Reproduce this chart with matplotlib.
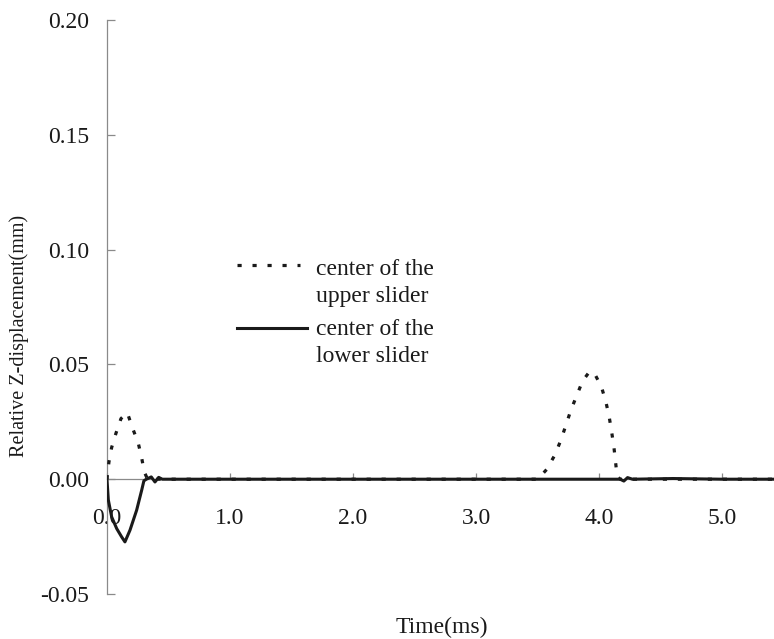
import matplotlib
matplotlib.use("Agg")
import matplotlib.pyplot as plt
from matplotlib.ticker import FixedLocator, FixedFormatter

plt.rcParams['font.family'] = ['Liberation Serif', 'DejaVu Serif']
plt.rcParams['axes.unicode_minus'] = False
plt.rcParams['lines.scale_dashes'] = False

# Time axis (ms) and relative Z-displacement (mm) of the two slider centres
upper_t = [0.0, 0.016, 0.038, 0.073, 0.114, 0.165, 0.209, 0.254, 0.282, 0.303,
           0.33, 1.0, 2.0, 3.0, 3.5, 3.572, 3.639, 3.688, 3.729, 3.769, 3.816,
           3.864, 3.92, 3.959, 4.018, 4.054, 4.081, 4.100, 4.119, 4.132, 4.145,
           4.17, 4.5, 5.0, 5.42]
upper_z = [0.0, 0.0075, 0.0138, 0.0200, 0.0264, 0.0290, 0.0221, 0.0158, 0.0093,
           0.0032, 0.0, 0.0, 0.0, 0.0, 0.0, 0.0042, 0.0105, 0.0170, 0.0235,
           0.0300, 0.0363, 0.0427, 0.0468, 0.0463, 0.0402, 0.0337, 0.0271,
           0.0209, 0.0141, 0.0078, 0.0013, 0.0, 0.0, 0.0, 0.0]

lower_t = [0.0, 0.011, 0.038, 0.079, 0.119, 0.146, 0.187, 0.241, 0.282, 0.300,
           0.32, 0.36, 0.39, 0.42, 0.45, 1.0, 2.0, 3.0, 4.0, 4.17, 4.20, 4.23,
           4.27, 4.6, 5.0, 5.42]
lower_z = [0.0, -0.0090, -0.0164, -0.0215, -0.0251, -0.0273, -0.0222, -0.0135,
           -0.0048, -0.0007, 0.0, 0.0010, -0.0012, 0.0008, 0.0, 0.0, 0.0, 0.0,
           0.0, 0.0, -0.0008, 0.0007, 0.0, 0.0003, 0.0, 0.0]

x_ticks = [0.0, 1.0, 2.0, 3.0, 4.0, 5.0]
x_tick_labels = ["0.0", "1.0", "2.0", "3.0", "4.0", "5.0"]
y_ticks = [-0.05, 0.0, 0.05, 0.10, 0.15, 0.20]
y_tick_labels = ["-0.05", "0.00", "0.05", "0.10", "0.15", "0.20"]

legend_labels = [("center of the", "upper slider"), ("center of the", "lower slider")]

fig = plt.figure(figsize=(7.74, 6.39), dpi=100)
ax = fig.add_axes([0.1382, 0.0704, 0.8618, 0.8983])

ink = "#1a1a1a"
axis_grey = "#8a8a8a"

dash_style = (0, (3.0, 7.8))
ax.plot(upper_t, upper_z, color=ink, lw=2.3, linestyle=dash_style, zorder=3)
ax.plot(lower_t, lower_z, color=ink, lw=2.2, solid_joinstyle='round', zorder=4)

ax.set_xlim(0, 5.42)
ax.set_ylim(-0.05, 0.20)

for side in ("top", "right"):
    ax.spines[side].set_visible(False)
ax.spines["bottom"].set_position(("data", 0.0))
ax.spines["bottom"].set_color(axis_grey)
ax.spines["bottom"].set_linewidth(0.9)
ax.spines["left"].set_color(axis_grey)
ax.spines["left"].set_linewidth(0.9)

ax.xaxis.set_major_locator(FixedLocator(x_ticks))
ax.xaxis.set_major_formatter(FixedFormatter(x_tick_labels))
ax.yaxis.set_major_locator(FixedLocator(y_ticks))
ax.yaxis.set_major_formatter(FixedFormatter(y_tick_labels))

ax.tick_params(axis="x", direction="in", length=4, width=0.9, color=axis_grey,
               pad=21, labelsize=17, labelcolor=ink)
ax.tick_params(axis="y", direction="in", length=6, width=0.9, color=axis_grey,
               pad=13, labelsize=17, labelcolor=ink)

ax.set_xlabel("Time(ms)", fontsize=17, color=ink)
ax.xaxis.set_label_coords(0.502, -0.04)
ax.set_ylabel("Relative Z-displacement(mm)", fontsize=14.5, color=ink)
ax.yaxis.set_label_coords(-0.117, 0.45)

# Legend drawn by hand: sample line aligned with the first text line
ax.plot([0.1945, 0.2894], [0.5732, 0.5732], transform=ax.transAxes,
        color=ink, lw=2.3, linestyle=dash_style, clip_on=False)
ax.plot([0.1945, 0.3003], [0.4629, 0.4629], transform=ax.transAxes,
        color=ink, lw=2.2, clip_on=False)
baselines = [(0.5557, 0.5087), (0.4512, 0.4042)]
for (l1, l2), (b1, b2) in zip(legend_labels, baselines):
    ax.text(0.3133, b1, l1, transform=ax.transAxes, fontsize=17, color=ink,
            va="baseline", ha="left")
    ax.text(0.3133, b2, l2, transform=ax.transAxes, fontsize=17, color=ink,
            va="baseline", ha="left")

fig.savefig("out.png", dpi=100)
